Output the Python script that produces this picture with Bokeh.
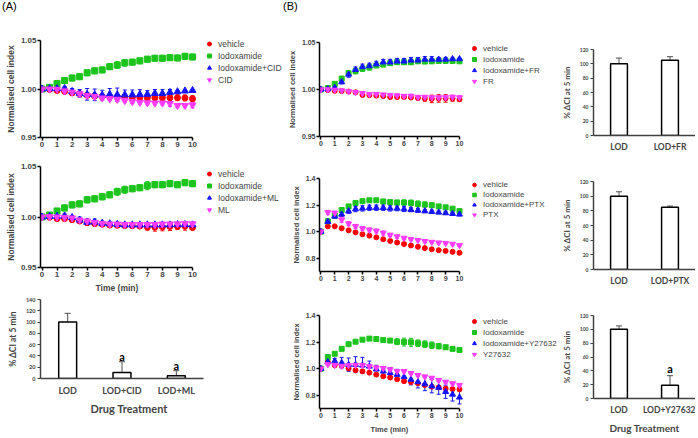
from bokeh.plotting import figure
from bokeh.models import (Range1d, FixedTicker, PrintfTickFormatter, Whisker, Title,
                          TeeHead, ColumnDataSource, Legend, LegendItem, Div)
from bokeh.layouts import row, column
from bokeh.embed import file_html
from bokeh.resources import INLINE
from bokeh.core.properties import value

# ---------------- data ----------------
time = [0, 0.5, 1, 1.5, 2, 2.5, 3, 3.5, 4, 4.5, 5, 5.5, 6, 6.5, 7, 7.5, 8, 8.5, 9, 9.5, 10]

# Panel A top (CID)
a1_names = ["vehicle", "Iodoxamide", "Iodoxamide+CID", "CID"]
a1_veh = [1.000, 0.9995, 0.9985, 0.9975, 0.996, 0.995, 0.9935, 0.9928, 0.9922, 0.992, 0.9918, 0.9917, 0.9915, 0.9912, 0.991, 0.991, 0.991, 0.991, 0.991, 0.9908, 0.990]
a1_veh_err = [0, 0.001, 0.001, 0.0015, 0.002, 0.002, 0.002, 0.002, 0.002, 0.002, 0.002, 0.002, 0.002, 0.002, 0.0025, 0.003, 0.003, 0.003, 0.003, 0.003, 0.003]
a1_iod = [1.000, 1.0017, 1.0057, 1.0087, 1.0113, 1.0127, 1.0167, 1.0187, 1.0197, 1.023, 1.0247, 1.027, 1.0277, 1.029, 1.0307, 1.0317, 1.0317, 1.0323, 1.032, 1.0337, 1.033]
a1_iod_err = [0, 0.001, 0.002, 0.003, 0.003, 0.003, 0.003, 0.003, 0.003, 0.003, 0.0035, 0.0035, 0.003, 0.003, 0.003, 0.003, 0.003, 0.003, 0.003, 0.003, 0.003]
a1_comb = [1.000, 1.0003, 1.0003, 1.0005, 0.9975, 0.9955, 0.9945, 0.994, 0.9937, 0.9945, 0.994, 0.994, 0.994, 0.9943, 0.9945, 0.9955, 0.9953, 0.9965, 0.9972, 0.998, 0.9985]
a1_comb_err = [0, 0.001, 0.002, 0.002, 0.003, 0.004, 0.006, 0.006, 0.005, 0.006, 0.007, 0.005, 0.005, 0.005, 0.004, 0.004, 0.004, 0.003, 0.001, 0.001, 0.001]
a1_drug = [1.000, 1.0, 0.9997, 0.998, 0.9967, 0.995, 0.9933, 0.9923, 0.9907, 0.990, 0.9893, 0.988, 0.987, 0.9863, 0.9857, 0.9855, 0.9855, 0.985, 0.983, 0.983, 0.9835]
a1_drug_err = [0, 0.001, 0.001, 0.002, 0.002, 0.003, 0.002, 0.002, 0.002, 0.002, 0.002, 0.002, 0.002, 0.002, 0.002, 0.002, 0.002, 0.003, 0.002, 0.002, 0.003]

# Panel A middle (ML)
a2_names = ["vehicle", "Iodoxamide", "Iodoxamide+ML", "ML"]
a2_veh = [1.000, 0.9997, 0.9985, 0.9984, 0.9974, 0.996, 0.9944, 0.9934, 0.9928, 0.992, 0.9918, 0.9915, 0.9914, 0.991, 0.990, 0.990, 0.9903, 0.9907, 0.9907, 0.991, 0.9895]
a2_veh_err = [0, 0.001, 0.001, 0.001, 0.001, 0.0015, 0.002, 0.002, 0.002, 0.002, 0.002, 0.002, 0.002, 0.002, 0.003, 0.004, 0.004, 0.004, 0.003, 0.004, 0.002]
a2_iod = [1.000, 1.002, 1.006, 1.009, 1.012, 1.013, 1.017, 1.018, 1.020, 1.022, 1.025, 1.027, 1.028, 1.029, 1.031, 1.032, 1.032, 1.033, 1.032, 1.034, 1.033]
a2_iod_err = [0, 0.001, 0.002, 0.003, 0.003, 0.003, 0.003, 0.003, 0.003, 0.003, 0.0035, 0.0035, 0.003, 0.003, 0.004, 0.003, 0.003, 0.003, 0.003, 0.003, 0.003]
a2_comb = [1.000, 1.0005, 1.0007, 1.001, 0.9995, 0.997, 0.9948, 0.995, 0.9938, 0.9933, 0.9927, 0.9922, 0.9922, 0.9922, 0.9922, 0.9922, 0.9922, 0.9922, 0.9925, 0.9925, 0.9922]
a2_comb_err = [0, 0.001, 0.002, 0.002, 0.002, 0.003, 0.003, 0.003, 0.002, 0.002, 0.002, 0.001, 0.001, 0.001, 0.001, 0.001, 0.001, 0.001, 0.001, 0.001, 0.001]
a2_drug = [1.000, 1.0003, 1.0, 0.9995, 0.999, 0.997, 0.996, 0.9945, 0.9935, 0.993, 0.993, 0.9925, 0.9925, 0.9925, 0.9925, 0.9925, 0.993, 0.993, 0.9932, 0.9935, 0.9932]
a2_drug_err = [0, 0.001, 0.001, 0.001, 0.001, 0.002, 0.002, 0.002, 0.001, 0.001, 0.001, 0.001, 0.001, 0.001, 0.001, 0.001, 0.001, 0.001, 0.001, 0.002, 0.001]

# Panel A bottom (bars)
a3_cats = ["LOD", "LOD+CID", "LOD+ML"]
a3_vals = [100, 10.7, 4.8]
a3_errs = [15.5, 19, 9]
a3_sig = ["", "a", "a"]

# Panel B top (FR)
b1_names = ["vehicle", "Iodoxamide", "Iodoxamide+FR", "FR"]
b1_veh = [1.000, 0.9995, 0.9986, 0.9983, 0.9978, 0.997, 0.9942, 0.994, 0.9935, 0.993, 0.992, 0.992, 0.992, 0.9915, 0.991, 0.9905, 0.990, 0.9905, 0.9905, 0.9905, 0.9895]
b1_veh_err = [0, 0.0005, 0.001, 0.001, 0.001, 0.001, 0.001, 0.001, 0.001, 0.001, 0.001, 0.0015, 0.0015, 0.002, 0.002, 0.003, 0.004, 0.004, 0.004, 0.003, 0.002]
b1_iod = [1.000, 1.0015, 1.006, 1.0116, 1.0174, 1.0196, 1.0222, 1.0236, 1.0255, 1.0265, 1.028, 1.029, 1.029, 1.029, 1.030, 1.0297, 1.030, 1.0304, 1.0304, 1.0304, 1.030]
b1_iod_err = [0, 0.001, 0.001, 0.002, 0.002, 0.003, 0.003, 0.003, 0.002, 0.002, 0.002, 0.002, 0.002, 0.002, 0.002, 0.002, 0.002, 0.002, 0.002, 0.001, 0.001]
b1_comb = [1.000, 1.0005, 1.002, 1.008, 1.016, 1.021, 1.024, 1.025, 1.027, 1.029, 1.029, 1.030, 1.030, 1.031, 1.031, 1.032, 1.032, 1.032, 1.032, 1.0325, 1.0325]
b1_comb_err = [0, 0.001, 0.001, 0.002, 0.003, 0.003, 0.003, 0.003, 0.003, 0.003, 0.003, 0.003, 0.003, 0.003, 0.003, 0.003, 0.003, 0.002, 0.002, 0.001, 0.001]
b1_drug = [1.000, 1.000, 0.9995, 0.999, 0.998, 0.997, 0.996, 0.995, 0.995, 0.9945, 0.994, 0.9935, 0.993, 0.993, 0.992, 0.992, 0.9915, 0.9915, 0.9915, 0.992, 0.9915]
b1_drug_err = [0, 0.001, 0.001, 0.001, 0.001, 0.001, 0.001, 0.001, 0.001, 0.001, 0.001, 0.002, 0.001, 0.002, 0.001, 0.001, 0.001, 0.001, 0.002, 0.002, 0.002]

# Panel B middle (PTX)
b2_names = ["vehicle", "Iodoxamide", "Iodoxamide+PTX", "PTX"]
b2_veh = [1.0, 1.04, 1.04, 1.025, 1.01, 0.995, 0.98, 0.97, 0.957, 0.943, 0.93, 0.918, 0.907, 0.896, 0.886, 0.876, 0.867, 0.86, 0.855, 0.848, 0.841]
b2_veh_err = [0, 0.005, 0.004, 0.004, 0.005, 0.005, 0.005, 0.005, 0.005, 0.006, 0.007, 0.008, 0.009, 0.010, 0.010, 0.010, 0.008, 0.006, 0.005, 0.005, 0.005]
b2_iod = [1.0, 1.078, 1.121, 1.163, 1.19, 1.216, 1.229, 1.236, 1.236, 1.227, 1.222, 1.219, 1.219, 1.216, 1.209, 1.204, 1.199, 1.19, 1.183, 1.173, 1.155]
b2_iod_err = [0, 0.005, 0.005, 0.005, 0.008, 0.008, 0.010, 0.010, 0.012, 0.012, 0.015, 0.018, 0.020, 0.022, 0.022, 0.020, 0.018, 0.015, 0.012, 0.010, 0.008]
b2_comb = [1.0, 1.075, 1.115, 1.13, 1.155, 1.17, 1.175, 1.18, 1.18, 1.18, 1.175, 1.175, 1.17, 1.165, 1.16, 1.155, 1.15, 1.145, 1.14, 1.135, 1.13]
b2_comb_err = [0, 0.01, 0.015, 0.015, 0.018, 0.02, 0.02, 0.02, 0.02, 0.02, 0.02, 0.018, 0.018, 0.015, 0.015, 0.012, 0.012, 0.01, 0.01, 0.01, 0.01]
b2_drug = [1.0, 1.145, 1.14, 1.09, 1.06, 1.04, 1.023, 1.013, 1.005, 0.99, 0.975, 0.963, 0.952, 0.942, 0.935, 0.928, 0.922, 0.917, 0.913, 0.907, 0.897]
b2_drug_err = [0, 0.015, 0.015, 0.02, 0.015, 0.015, 0.015, 0.015, 0.015, 0.015, 0.012, 0.012, 0.012, 0.01, 0.01, 0.01, 0.008, 0.008, 0.008, 0.008, 0.008]

# Panel B bottom (Y27632)
b3_names = ["vehicle", "Iodoxamide", "Iodoxamide+Y27632", "Y27632"]
b3_veh = [1.0, 1.05, 1.025, 1.022, 1.002, 0.988, 0.98, 0.97, 0.955, 0.943, 0.933, 0.92, 0.906, 0.9, 0.89, 0.876, 0.864, 0.859, 0.85, 0.846, 0.844]
b3_veh_err = [0, 0.01, 0.008, 0.008, 0.008, 0.008, 0.008, 0.008, 0.008, 0.008, 0.008, 0.01, 0.01, 0.01, 0.01, 0.01, 0.01, 0.01, 0.01, 0.01, 0.01]
b3_iod = [1.0, 1.087, 1.112, 1.149, 1.184, 1.203, 1.218, 1.226, 1.223, 1.216, 1.211, 1.203, 1.2, 1.198, 1.191, 1.184, 1.176, 1.169, 1.161, 1.149, 1.141]
b3_iod_err = [0, 0.008, 0.005, 0.005, 0.008, 0.008, 0.01, 0.01, 0.012, 0.01, 0.012, 0.022, 0.03, 0.03, 0.025, 0.025, 0.025, 0.02, 0.015, 0.012, 0.01]
b3_comb = [1.0, 1.05, 1.057, 1.045, 1.03, 1.03, 1.025, 1.017, 0.995, 0.98, 0.968, 0.955, 0.938, 0.918, 0.9, 0.884, 0.868, 0.857, 0.826, 0.806, 0.784]
b3_comb_err = [0, 0.01, 0.02, 0.04, 0.05, 0.06, 0.06, 0.04, 0.03, 0.03, 0.04, 0.04, 0.04, 0.04, 0.045, 0.05, 0.05, 0.05, 0.05, 0.05, 0.05]
b3_drug = [1.0, 1.032, 1.027, 1.02, 1.025, 1.027, 1.025, 1.017, 1.007, 1.003, 0.993, 0.98, 0.98, 0.965, 0.95, 0.94, 0.93, 0.913, 0.90, 0.888, 0.876]
b3_drug_err = [0, 0.008, 0.01, 0.01, 0.01, 0.01, 0.01, 0.01, 0.01, 0.01, 0.01, 0.01, 0.01, 0.01, 0.01, 0.01, 0.01, 0.01, 0.01, 0.01, 0.01]

# Panel B bars
bb1_cats = ["LOD", "LOD+FR"]
bb1_vals = [100, 105]
bb1_errs = [8, 5]
bb1_sig = ["", ""]
bb2_cats = ["LOD", "LOD+PTX"]
bb2_vals = [100, 85]
bb2_errs = [6, 1.5]
bb2_sig = ["", ""]
bb3_cats = ["LOD", "LOD+Y27632"]
bb3_vals = [100, 19]
bb3_errs = [5, 14]
bb3_sig = ["", "a"]

# ---------------- styling ----------------
RED, GREEN, BLUE, PINK = "#FF0000", "#1DC41D", "#1414FF", "#FF3CFF"
ARIAL = "Liberation Sans"
CAL = "Lato"


def base_fig(w, h, bl, br, bt, bb, xr, yr):
    p = figure(width=w, height=h, x_range=xr, y_range=yr, output_backend="svg",
               toolbar_location=None, min_border_left=bl, min_border_right=br,
               min_border_top=bt, min_border_bottom=bb, title=None)
    p.outline_line_color = None
    p.xgrid.visible = False
    p.ygrid.visible = False
    p.background_fill_color = "white"
    p.border_fill_color = "white"
    return p


def below_label(p, text, font, size, offset, standoff):
    # x-axis caption placed under the axis part of an extended frame
    p.add_layout(Title(text=text, align="left", offset=offset, standoff=standoff,
                       text_font=font, text_font_size=size, text_font_style="bold"), "below")


def line_panel(w, h, bl, ppu, bt, bb, series, names, yr, yticks, yfmt, tick_fs, lab_fs,
               leg_fs, leg_h, leg_loc, msize):
    # frame reaches the right edge so the legend lies inside it; the x axis stops at 10
    fw = w - bl
    xr = Range1d(-0.1, -0.1 + fw / ppu)
    p = base_fig(w, h, bl, 0, bt, bb, xr, Range1d(*yr))
    styles = [("circle", RED, msize - 1), ("square", GREEN, msize - 1),
              ("triangle", BLUE, msize), ("inverted_triangle", PINK, msize)]
    rends = []
    for (vals, errs), (mk, col, sz) in zip(series, styles):
        src = ColumnDataSource(dict(t=time, v=vals,
                                    lo=[a - b for a, b in zip(vals, errs)],
                                    hi=[a + b for a, b in zip(vals, errs)]))
        p.add_layout(Whisker(source=src, base="t", lower="lo", upper="hi", line_color=col,
                             line_width=1,
                             upper_head=TeeHead(size=4, line_color=col, line_width=1),
                             lower_head=TeeHead(size=4, line_color=col, line_width=1)))
        r = p.scatter("t", "v", source=src, marker=mk, size=sz, color=col)
        rends.append(r)
    leg = Legend(items=[LegendItem(label=n, renderers=[r]) for n, r in zip(names, rends)],
                 location=leg_loc, padding=0, margin=0, spacing=1,
                 glyph_height=leg_h, glyph_width=10, label_height=leg_h, label_standoff=4,
                 label_text_font=ARIAL, label_text_font_size=leg_fs,
                 border_line_color=None, background_fill_alpha=0)
    p.add_layout(leg)
    for ax in (p.xaxis[0], p.yaxis[0]):
        ax.axis_line_width = 1.5
        ax.axis_line_color = "black"
        ax.major_tick_line_width = 1.5
        ax.major_tick_in = 0
        ax.major_tick_out = 3
        ax.minor_tick_line_color = None
        ax.minor_tick_out = 0
        ax.major_label_text_font = ARIAL
        ax.major_label_text_font_style = "bold"
        ax.major_label_text_font_size = tick_fs
        ax.major_label_standoff = 1
        ax.axis_label_text_font = ARIAL
        ax.axis_label_text_font_style = "bold"
        ax.axis_label_text_font_size = lab_fs
        ax.axis_label_standoff = 2
    p.xaxis.ticker = FixedTicker(ticks=list(range(11)))
    p.xaxis.bounds = (-0.1, 10)
    p.yaxis.ticker = FixedTicker(ticks=yticks)
    p.yaxis.formatter = PrintfTickFormatter(format=yfmt)
    p.yaxis.axis_label = "Normalised cell index"
    return p


def bar_panel(w, h, bl, cat_px, bt, bb, cats, vals, errs, sig, ymax, tick_fs, cat_fs, lab_fs,
              cat_stand):
    # numeric category slots; the frame may extend past the last slot (axis stops there)
    fw = w - bl
    n = len(cats)
    pos = [i + 0.5 for i in range(n)]
    p = base_fig(w, h, bl, 0, bt, bb, Range1d(0, fw / cat_px), Range1d(0, ymax))
    src = ColumnDataSource(dict(x=pos, val=vals,
                                top=[v + e for v, e in zip(vals, errs)],
                                sig=sig,
                                sy=[v + e + 10 for v, e in zip(vals, errs)]))
    p.add_layout(Whisker(source=src, base="x", lower="val", upper="top", line_color="#505050",
                         line_width=1, lower_head=None,
                         upper_head=TeeHead(size=6, line_color="#505050", line_width=1)))
    p.vbar(x="x", top="val", width=0.33, source=src, fill_color="white",
           line_color="black", line_width=1.5)
    p.text(x="x", y="sy", text="sig", source=src, text_font=value(CAL),
           text_font_style="bold", text_font_size="11px", text_align="center",
           text_baseline="middle", text_color="black")
    xa, ya = p.xaxis[0], p.yaxis[0]
    for ax in (xa, ya):
        ax.axis_line_color = "#404040"
        ax.axis_line_width = 1.5
        ax.minor_tick_line_color = None
        ax.minor_tick_out = 0
        ax.axis_label_text_font = CAL
        ax.axis_label_text_font_style = "bold"
    xa.ticker = FixedTicker(ticks=pos)
    xa.major_label_overrides = {x: c for x, c in zip(pos, cats)}
    xa.bounds = (0, n)
    xa.major_tick_line_color = None
    xa.major_tick_out = 0
    xa.major_tick_in = 0
    xa.major_label_text_font = CAL
    xa.major_label_text_font_style = "bold"
    xa.major_label_text_font_size = cat_fs
    xa.major_label_standoff = cat_stand
    ya.ticker = FixedTicker(ticks=list(range(0, ymax + 1, 20)))
    ya.major_tick_in = 0
    ya.major_tick_out = 3
    ya.major_tick_line_color = "#404040"
    ya.major_label_text_font = CAL
    ya.major_label_text_font_style = "bold"
    ya.major_label_text_font_size = tick_fs
    ya.major_label_standoff = 2
    ya.axis_label = "% ΔCI at 5 min"
    ya.axis_label_text_font_size = lab_fs
    ya.axis_label_standoff = 5
    return p


def tag(text, w, pad):
    return Div(text=text, width=w, height=12, margin=0,
               styles={"font-family": "Liberation Sans", "font-size": "11px",
                       "line-height": "12px", "padding-left": f"{pad}px", "color": "black"})


A_PPU = 15.05   # pixels per minute, panel A line plots
B_PPU = 13.86   # pixels per minute, panel B line plots

# ---------------- panel A ----------------
A1 = line_panel(283, 142, 40, A_PPU, 28, 17,
                [(a1_veh, a1_veh_err), (a1_iod, a1_iod_err), (a1_comb, a1_comb_err), (a1_drug, a1_drug_err)],
                a1_names, (0.95, 1.05), [0.95, 1.0, 1.05], "%.2f", "8px", "8.5px",
                "8.5px", 11, (164, 52), 7)
A2 = line_panel(283, 143, 40, A_PPU, 12, 30,
                [(a2_veh, a2_veh_err), (a2_iod, a2_iod_err), (a2_comb, a2_comb_err), (a2_drug, a2_drug_err)],
                a2_names, (0.95, 1.05), [0.95, 1.0, 1.05], "%.2f", "8px", "8.5px",
                "8.5px", 11, (164, 52), 7)
below_label(A2, "Time (min)", ARIAL, "8.5px", 55, 2)
A3 = bar_panel(283, 123, 40, 54.33, 2, 42, a3_cats, a3_vals, a3_errs, a3_sig, 140,
               "5.5px", "9px", "8.5px", 6)
below_label(A3, "Drug Treatment", CAL, "11px", 50, 2)

# ---------------- panel B lines ----------------
B1 = line_panel(275, 142, 36, B_PPU, 30, 18,
                [(b1_veh, b1_veh_err), (b1_iod, b1_iod_err), (b1_comb, b1_comb_err), (b1_drug, b1_drug_err)],
                b1_names, (0.95, 1.05), [0.95, 1.0, 1.05], "%.2f", "7px", "7.5px",
                "8px", 10, (150, 50), 6)
B2 = line_panel(275, 137, 36, B_PPU, 24, 20,
                [(b2_veh, b2_veh_err), (b2_iod, b2_iod_err), (b2_comb, b2_comb_err), (b2_drug, b2_drug_err)],
                b2_names, (0.7, 1.4), [0.8, 1.0, 1.2, 1.4], "%.1f", "7px", "7.5px",
                "8px", 9, (150, 52), 6)
B3 = line_panel(275, 145, 36, B_PPU, 24, 28,
                [(b3_veh, b3_veh_err), (b3_iod, b3_iod_err), (b3_comb, b3_comb_err), (b3_drug, b3_drug_err)],
                b3_names, (0.7, 1.4), [0.8, 1.0, 1.2, 1.4], "%.1f", "7px", "7.5px",
                "8px", 10, (150, 49), 6)
below_label(B3, "Time (min)", ARIAL, "7.5px", 51, 5)

# ---------------- panel B bars ----------------
C1 = bar_panel(137, 154, 29, 54, 49, 18, bb1_cats, bb1_vals, bb1_errs, bb1_sig, 120,
               "5px", "8.5px", "8px", 6)
C2 = bar_panel(137, 137, 29, 54, 27, 22, bb2_cats, bb2_vals, bb2_errs, bb2_sig, 120,
               "5px", "8.5px", "8px", 6)
C3 = bar_panel(137, 145, 29, 54, 24, 35, bb3_cats, bb3_vals, bb3_errs, bb3_sig, 120,
               "5px", "8.5px", "8px", 6)
C3.xaxis.axis_label = "Drug Treatment"
C3.xaxis.axis_label_text_font_size = "10px"
C3.xaxis.axis_label_standoff = 4

layout = row(column(tag("(A)", 283, 2), A1, A2, A3, spacing=0),
             column(tag("(B)", 275, 0), B1, B2, B3, spacing=0),
             column(C1, C2, C3, spacing=0), spacing=0)

open("out.html", "w").write(file_html(layout, INLINE))
